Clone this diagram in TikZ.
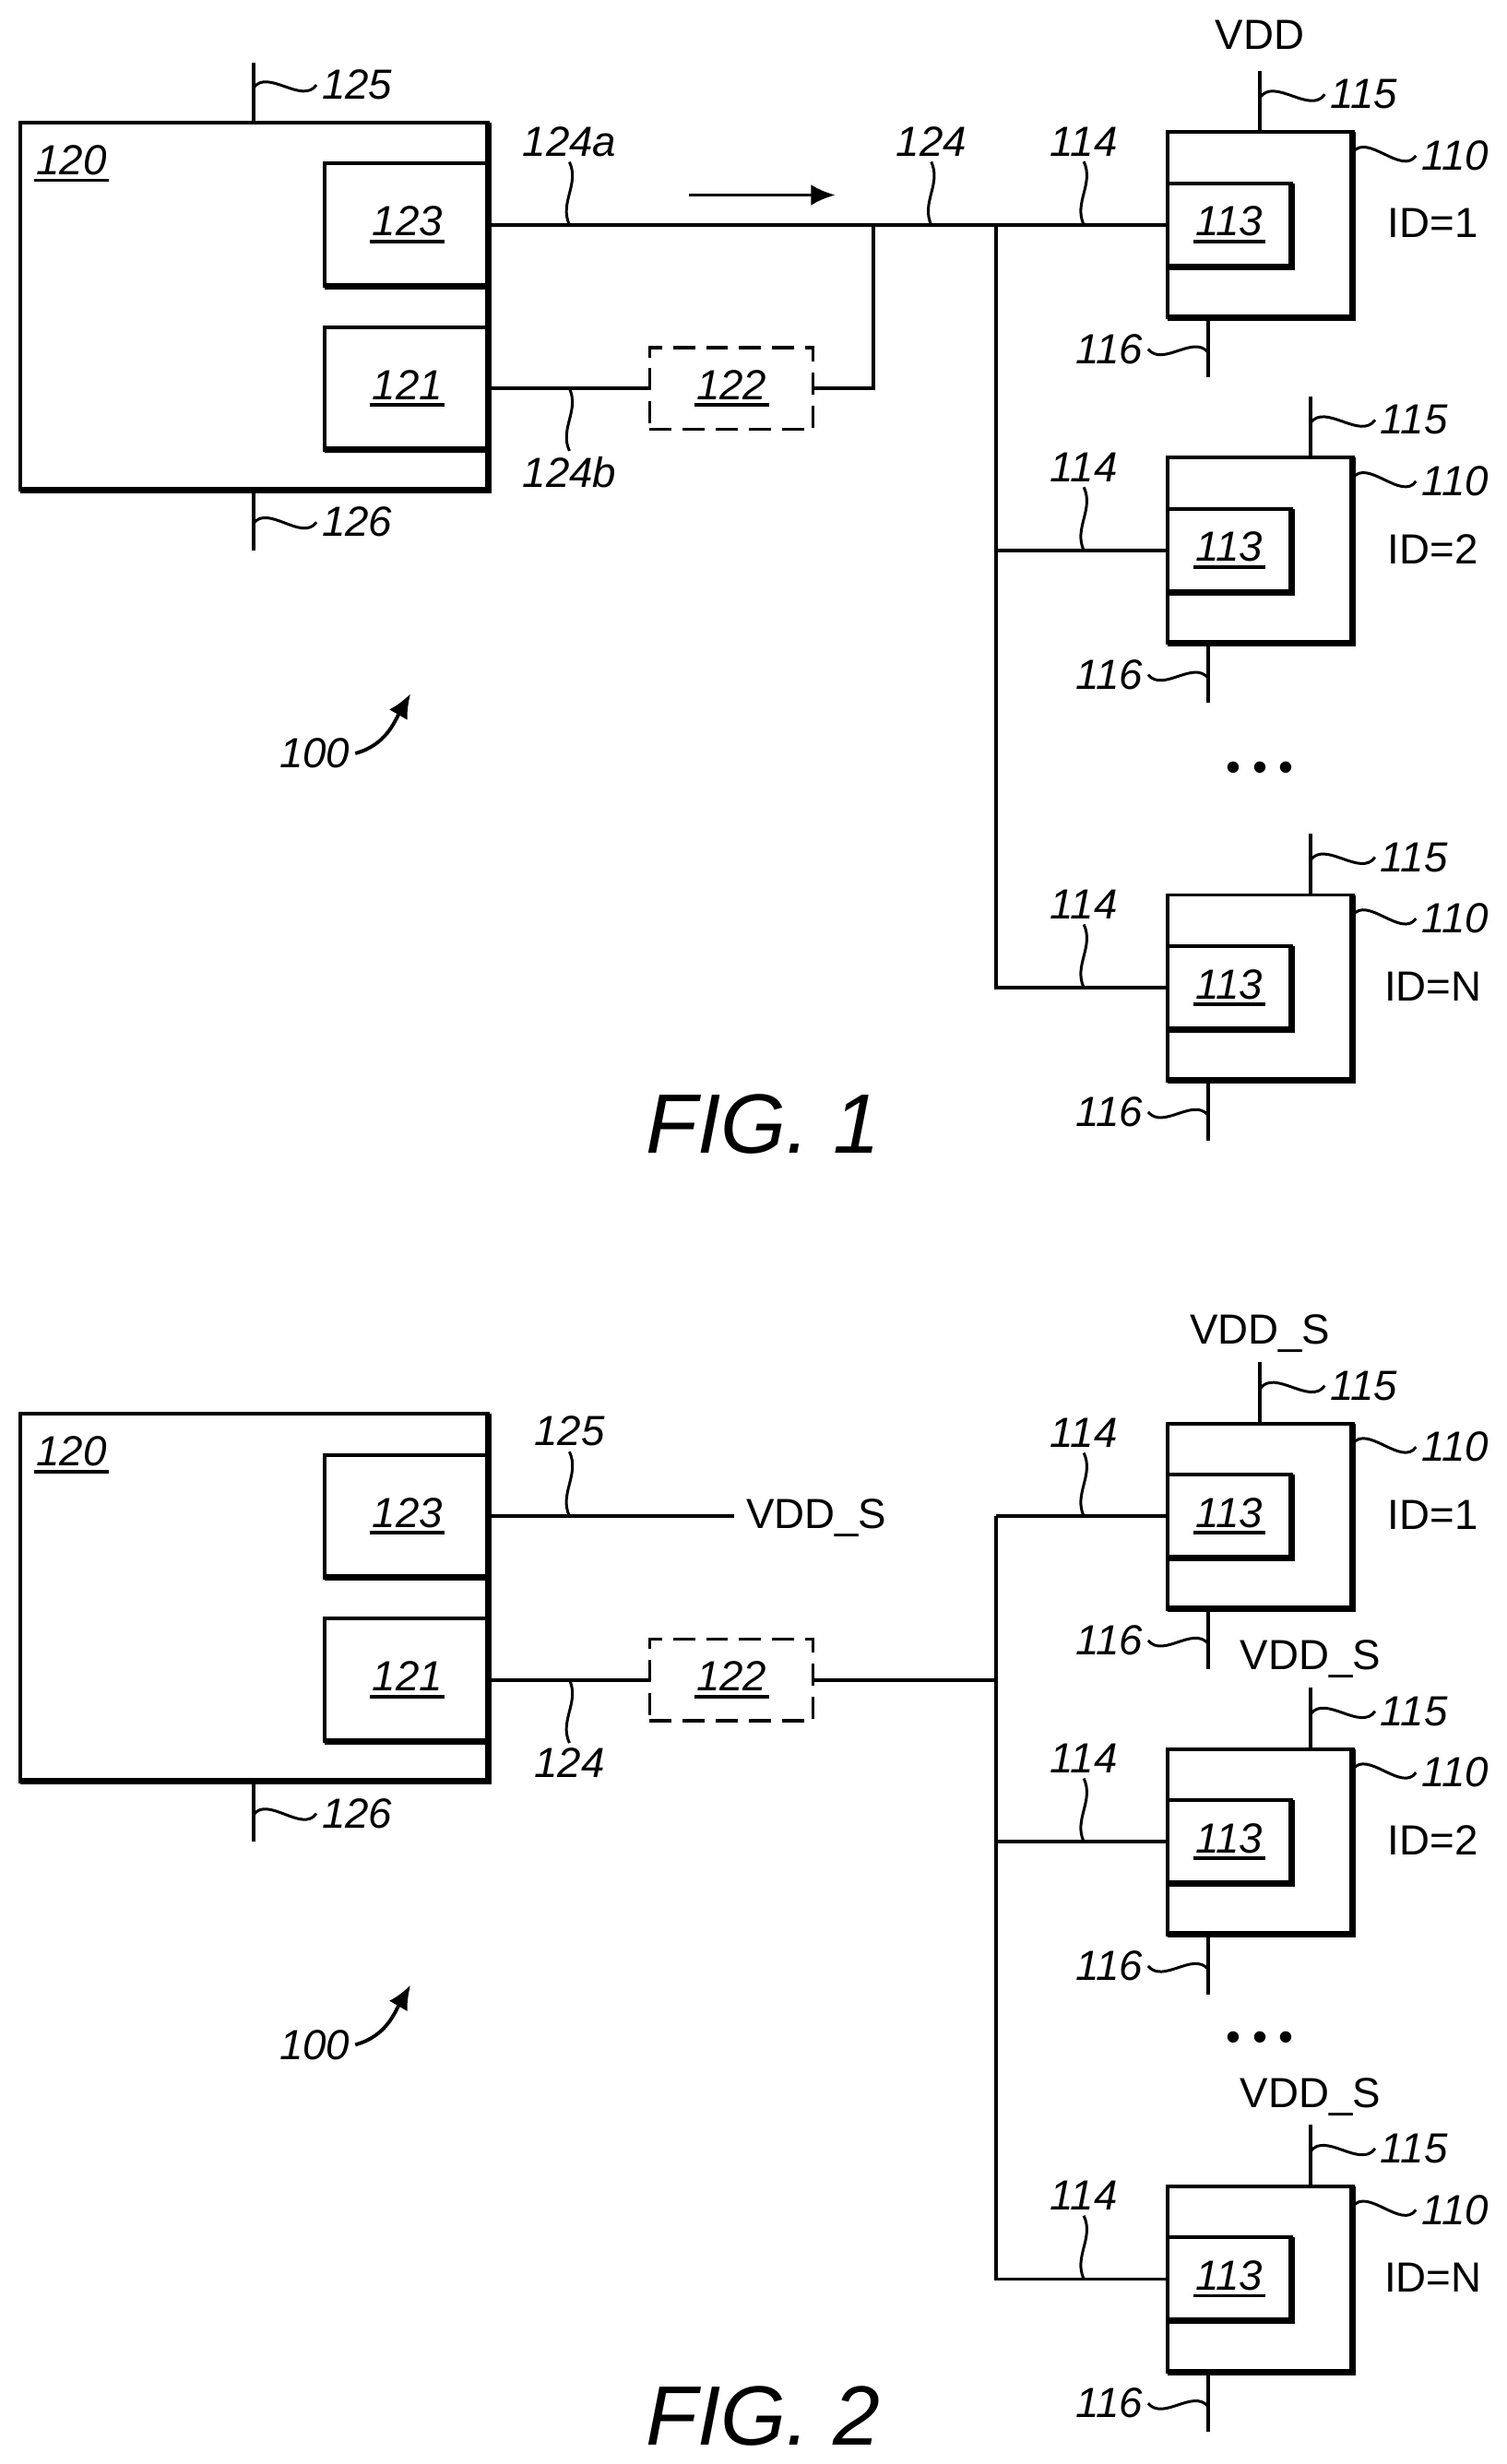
\documentclass[tikz,border=0pt]{standalone}
\usepackage{fontspec}
\usetikzlibrary{arrows.meta}
\setmainfont{Liberation Sans}
\tikzset{
  >={Latex[length=7.5pt,width=6.5pt]},
  wire/.style={line width=1.1pt},
  heavy/.style={line width=2pt},
  lead/.style={line width=0.85pt},
  hostbox/.style={draw, line width=1.1pt, minimum width=5.076cm, minimum height=3.985cm, inner sep=0, outer sep=0},
  portbox/.style={draw, line width=1.1pt, minimum width=1.79cm, minimum height=1.33cm, inner sep=0, outer sep=0},
  unitbox/.style={draw, line width=1.1pt, minimum width=2.012cm, minimum height=2.012cm, inner sep=0, outer sep=0},
  sensebox/.style={draw, line width=1.1pt, minimum width=1.347cm, minimum height=0.904cm, inner sep=0, outer sep=0},
  filterbox/.style={draw, line width=0.9pt, dash pattern=on 6.8pt off 3.4pt, minimum width=1.774cm, minimum height=0.887cm, inner sep=0, outer sep=0},
  reflabel/.style={font=\fontsize{13}{15}\selectfont\itshape, inner sep=1.5pt},
  plainlabel/.style={font=\fontsize{13}{15}\selectfont, inner sep=1pt},
  dotlabel/.style={font=\fontsize{13}{15}\selectfont, inner sep=0, anchor=base},
  figlabel/.style={font=\fontsize{26}{30}\selectfont\itshape, inner sep=0},
}
% underlined reference number
\newcommand{\refu}[1]{\setbox0\hbox{#1}\rlap{\hspace{-0.7pt}\raisebox{-2.3pt}{\rule{\dimexpr\wd0+1.4pt}{1.1pt}}}\box0}
% one bus unit: name, x of supply stub, y of centre, id
\newcommand{\devunit}[4]{
  \node[unitbox] (#1) at (801,#3) {};
  \draw[heavy] (#1.south west) -- (#1.south east) -- (#1.north east);
  \node[sensebox, anchor=west] (#1i) at (#1.west) {};
  \draw[heavy] (#1i.south west) -- (#1i.south east) -- (#1i.north east);
  \node[reflabel] (#1t) at (#1i.center) {\refu{113}};
  \node[plainlabel] (#1id) at (911,#3-1) {ID=#4};
  \coordinate (#1vdd) at (#2,#3-98);
  \coordinate (#1vj) at (#2,#3-81);
  \coordinate (#1gnd) at (768,#3+97);
  \coordinate (#1gj) at (768,#3+81);
  \coordinate (#1oj) at (#1.east |- 0,#3-46);
  \draw[wire] (#1vdd) -- (#1vdd |- #1.north);
  \draw[wire] (#1gnd) -- (#1gnd |- #1.south);
  \node[reflabel] (#1l115) at (#2+66,#3-83) {115};
  \node[reflabel] (#1l110) at (925,#3-44) {110};
  \node[reflabel] (#1l116) at (705,#3+79) {116};
  \node[reflabel] (#1l114) at (689,#3-53) {114};
  \draw[lead] (#1vj) to[out=55, in=235] (#1l115.west);
  \draw[lead] (#1oj) to[out=55, in=235] (#1l110.west);
  \draw[lead] (#1l116.east) to[out=-50, in=130] (#1gj);
  \draw[lead] (#1l114.south) to[out=-65, in=115] (#1l114.south |- #1i.west);
}
% parts both figures share: controller with its ports and the filter
\newcommand{\hostparts}[1]{
  \node[hostbox] (#1host) at (161.7,194.8) {};
  \draw[heavy] (#1host.south west) -- (#1host.south east) -- (#1host.north east);
  \node[portbox] (#1p123) at (259,143) {};
  \draw[heavy] (#1p123.south west) -- (#1p123.south east);
  \node[portbox] (#1p121) at (259,247) {};
  \draw[heavy] (#1p121.south west) -- (#1p121.south east);
  \draw[heavy] (#1host.north east) -- (#1host.south east);
  \node[filterbox] (#1p122) at (465,247) {};
  \node[reflabel] at (#1p123) {\refu{123}};
  \node[reflabel] at (#1p121) {\refu{121}};
  \node[reflabel] at (#1p122) {\refu{122}};
  \node[reflabel] (#1l120) at (45.5,104) {\refu{120}};
  \draw[wire] (#1p121.east) -- (#1p122.west);
  \coordinate (#1gnd) at (161,350);
  \coordinate (#1gj) at (161,333);
  \draw[wire] (#1gnd) -- (#1gnd |- #1host.south);
  \node[reflabel] (#1l126) at (227,332) {126};
  \draw[lead] (#1gj) to[out=55, in=235] (#1l126.west);
  \node[reflabel] (#1l100) at (200,479) {100};
  \coordinate (#1tip) at (261,441);
  \draw[->, line width=1.1pt] (#1l100.east) to[out=15, in=240] (#1tip);
}
\begin{document}
\begin{tikzpicture}[x=0.017056cm, y=-0.017056cm]
  \useasboundingbox (0,0) rectangle (957.5,1566.6);

  % FIG. 1
  \hostparts{a}
  \coordinate (avcc) at (161,40);
  \coordinate (avj) at (161,56);
  \draw[wire] (avcc) -- (avcc |- ahost.north);
  \node[reflabel] (al125) at (227,54) {125};
  \draw[lead] (avj) to[out=55, in=235] (al125.west);
  \devunit{au}{801}{143}{1}
  \devunit{av}{833}{350}{2}
  \devunit{aw}{833}{628}{N}
  \node[plainlabel] (avdd) at (801,22) {VDD};
  \coordinate (ajoin) at (555,143);
  \coordinate (abus) at (633,143);
  \draw[wire] (ap123.east) -- (aui.west);
  \draw[wire] (ap122.east) -- (ajoin |- ap122.east) -- (ajoin);
  \draw[wire] (abus) -- (awi.west -| abus) -- (awi.west);
  \draw[wire] (avi.west -| abus) -- (avi.west);
  \node[reflabel] (al124a) at (362,90) {124a};
  \node[reflabel] (al124b) at (362,300) {124b};
  \node[reflabel] (al124) at (592,90) {124};
  \draw[lead] (al124a.south) to[out=-65, in=115] (al124a.south |- ap123.east);
  \draw[lead] (al124.south) to[out=-65, in=115] (al124.south |- ap123.east);
  \draw[lead] (al124b.north |- ap121.east) to[out=-65, in=115] (al124b.north);
  \coordinate (aflow) at (438,124);
  \coordinate (aflowend) at (531,124);
  \draw[->, wire] (aflow) -- (aflowend);
  \node[dotlabel] (adots) at (801,496.6) {• • •};
  \node[figlabel] (afig) at (485,715) {FIG. 1};

  % FIG. 2
  \begin{scope}[shift={(0,821)}]
    \hostparts{b}
    \devunit{bu}{801}{143}{1}
    \devunit{bv}{833}{350}{2}
    \devunit{bw}{833}{628}{N}
    \node[plainlabel] (bvs) at (519,144) {VDD\_S};
    \node[plainlabel] (bus) at (801,27) {VDD\_S};
    \node[plainlabel] (bvs2) at (833,234) {VDD\_S};
    \node[plainlabel] (bws) at (833,512) {VDD\_S};
    \coordinate (bbus) at (633,143);
    \draw[wire, shorten >=2.5pt] (bp123.east) -- (bvs.west |- bp123.east);
    \draw[wire] (bp122.east) -- (bp122.east -| bbus);
    \draw[wire] (bbus) -- (bui.west);
    \draw[wire] (bbus) -- (bwi.west -| bbus) -- (bwi.west);
    \draw[wire] (bvi.west -| bbus) -- (bvi.west);
    \node[reflabel] (bl125) at (362,89) {125};
    \node[reflabel] (bl124) at (362,300) {124};
    \draw[lead] (bl125.south) to[out=-65, in=115] (bl125.south |- bp123.east);
    \draw[lead] (bl124.north |- bp121.east) to[out=-65, in=115] (bl124.north);
    \node[dotlabel] (bdots) at (801,483) {• • •};
    \node[figlabel] (bfig) at (485,715) {FIG. 2};
  \end{scope}
\end{tikzpicture}
\end{document}
